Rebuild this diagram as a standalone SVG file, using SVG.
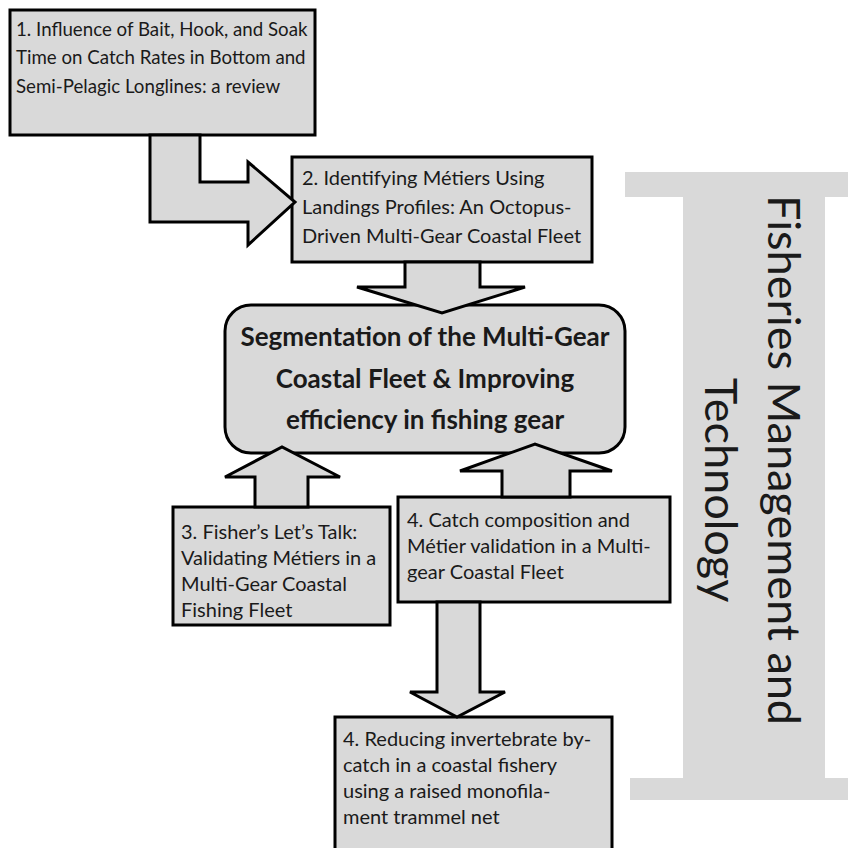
<svg xmlns="http://www.w3.org/2000/svg" width="848" height="848" viewBox="0 0 848 848">
<style>
.box{fill:#d9d9d9;stroke:#000;stroke-width:3}
.arr{fill:#d9d9d9;stroke:#000;stroke-width:3;stroke-linejoin:miter}
.t{font-family:Lato,"Open Sans","Liberation Sans",sans-serif;font-size:20px;fill:#1a1a1a}
.t1{font-size:18.7px}
.b{font-family:Lato,"Open Sans","Liberation Sans",sans-serif;font-size:26px;font-weight:700;fill:#1a1a1a;text-anchor:middle}
.r{font-family:Lato,"Open Sans","Liberation Sans",sans-serif;font-size:45px;fill:#1a1a1a;text-anchor:middle}
</style>
<rect width="848" height="848" fill="#fff"/>
<g id="theme">
<path d="M625,172 H848 V197 H825 V778 H848 V800 H630 V778 H683 V197 H625 Z" fill="#d9d9d9"/>
<text class="r" transform="translate(768,460) rotate(90)">Fisheries Management and</text>
<text class="r" transform="translate(705,490) rotate(90)">Technology</text>
</g>
<g id="n1">
<rect class="box" x="10" y="10" width="305" height="125"/>
<text class="t t1"><tspan x="16" y="36">1. Influence of Bait, Hook, and Soak</tspan><tspan x="16" y="64">Time on Catch Rates in Bottom and</tspan><tspan x="16" y="93">Semi-Pelagic Longlines: a review</tspan></text>
</g>
<g id="n2">
<rect class="box" x="292" y="157" width="300" height="105"/>
<text class="t"><tspan x="302" y="185">2. Identifying Métiers Using</tspan><tspan x="302" y="214">Landings Profiles: An Octopus-</tspan><tspan x="302" y="243">Driven Multi-Gear Coastal Fleet</tspan></text>
</g>
<g id="center">
<rect class="box" x="225" y="305" width="400" height="148" rx="26"/>
<text class="b"><tspan x="425" y="346">Segmentation of the Multi-Gear</tspan><tspan x="425" y="388">Coastal Fleet &amp; Improving</tspan><tspan x="425" y="429">efficiency in fishing gear</tspan></text>
</g>
<g id="n3">
<rect class="box" x="173" y="507" width="217" height="118"/>
<text class="t"><tspan x="181" y="539">3. Fisher’s Let’s Talk:</tspan><tspan x="181" y="565">Validating Métiers in a</tspan><tspan x="181" y="591">Multi-Gear Coastal</tspan><tspan x="181" y="617">Fishing Fleet</tspan></text>
</g>
<g id="n4">
<rect class="box" x="398" y="497" width="272" height="105"/>
<text class="t"><tspan x="407" y="527">4. Catch composition and</tspan><tspan x="407" y="553">Métier validation in a Multi-</tspan><tspan x="407" y="579">gear Coastal Fleet</tspan></text>
</g>
<g id="n5">
<rect class="box" x="335" y="717" width="277" height="160"/>
<text class="t"><tspan x="343" y="746">4. Reducing invertebrate by-</tspan><tspan x="343" y="772">catch in a coastal fishery</tspan><tspan x="343" y="798">using a raised monofila-</tspan><tspan x="343" y="824">ment trammel net</tspan></text>
</g>
<g id="connectors">
<polygon class="arr" points="150,135 150,222 248,222 248,245 295,202 248,162 248,182 200,182 200,135"/>
<polygon class="arr" points="405,262 405,287 357,287 442,313 525,287 480,287 480,262"/>
<polygon class="arr" points="255,507 255,477 225,477 282,447 340,477 308,477 308,507"/>
<polygon class="arr" points="502,497 502,471 460,471 535,444 612,471 570,471 570,497"/>
<polygon class="arr" points="437,602 437,692 410,692 457,717 505,692 480,692 480,602"/>
</g>
</svg>
